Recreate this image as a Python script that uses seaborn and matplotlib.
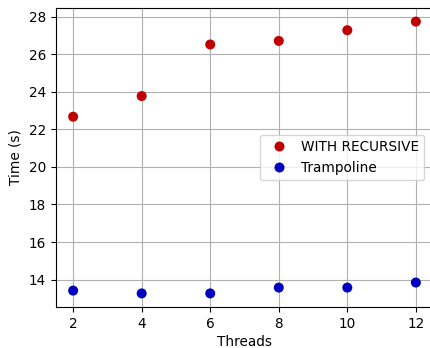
import matplotlib
matplotlib.use("Agg")
import matplotlib.pyplot as plt
import seaborn as sns
import pandas as pd

threads = [2, 4, 6, 8, 10, 12]
recursive_times = [22.68, 23.78, 26.53, 26.72, 27.29, 27.75]
trampoline_times = [13.41, 13.26, 13.26, 13.57, 13.57, 13.84]
series_names = ["WITH RECURSIVE", "Trampoline"]
colors = ["#c00000", "#0000c0"]

df = pd.DataFrame({
    "Threads": threads * 2,
    "Time (s)": recursive_times + trampoline_times,
    "Method": [series_names[0]] * len(threads) + [series_names[1]] * len(threads),
})

plt.rcParams["font.family"] = ["DejaVu Sans"]
plt.rcParams["font.size"] = 9.8
fig = plt.figure(figsize=(4.3, 3.48), dpi=100)
ax = fig.add_axes([56 / 430, 1 - 307 / 348, 377 / 430, 299 / 348])
sns.scatterplot(data=df, x="Threads", y="Time (s)", hue="Method",
                palette=dict(zip(series_names, colors)), s=52,
                edgecolor="none", ax=ax, zorder=3)
ax.grid(True, color="#b0b0b0", linewidth=0.8)
ax.set_axisbelow(True)
ax.set_xticks([2, 4, 6, 8, 10, 12])
ax.set_yticks([14, 16, 18, 20, 22, 24, 26, 28])
ax.margins(0.05)
ax.set_ylabel("Time (s)", labelpad=5)
ax.set_xlabel("Threads", labelpad=3)
leg = ax.legend(loc="center right", title=None, handletextpad=0.6,
                bbox_to_anchor=(0.995, 0.5))
fig.savefig("out.png", dpi=100)
